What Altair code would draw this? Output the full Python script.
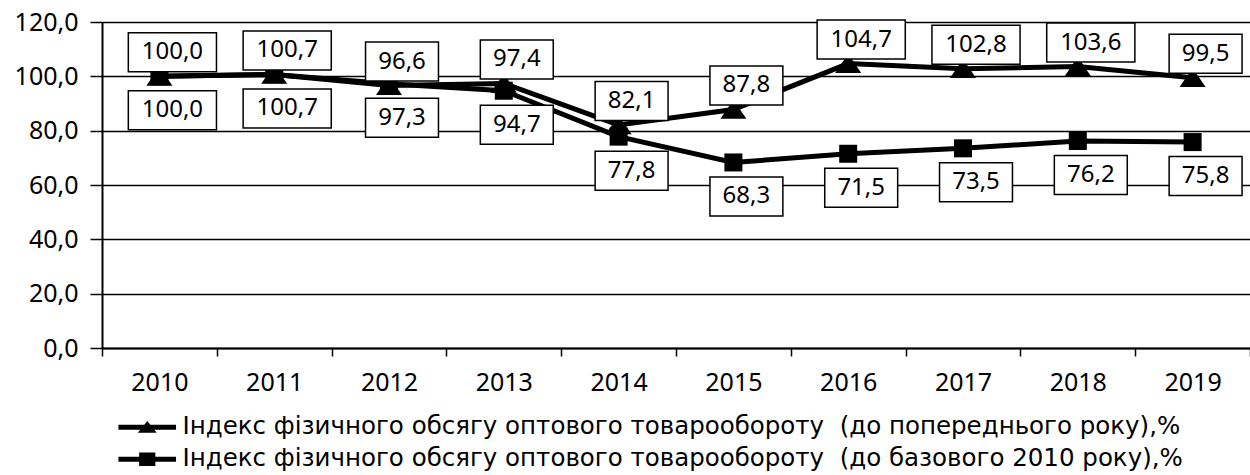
import altair as alt
import pandas as pd

FONT = "Noto Sans"
LEGEND_FONT = "DejaVu Sans"

years = ["2010", "2011", "2012", "2013", "2014", "2015", "2016", "2017", "2018", "2019"]
prev_year = [100.0, 100.7, 96.6, 97.4, 82.1, 87.8, 104.7, 102.8, 103.6, 99.5]
base_2010 = [100.0, 100.7, 97.3, 94.7, 77.8, 68.3, 71.5, 73.5, 76.2, 75.8]
series_names = [
    "Індекс фізичного обсягу оптового товарообороту\u00a0 (до попереднього року),%",
    "Індекс фізичного обсягу оптового товарообороту\u00a0 (до базового 2010 року),%",
]
y_ticks = [0, 20, 40, 60, 80, 100, 120]

rows = []
for name, vals in zip(series_names, [prev_year, base_2010]):
    for yr, v in zip(years, vals):
        rows.append({"year": yr, "value": v, "series": name,
                     "label": f"{v:.1f}".replace(".", ",")})
df = pd.DataFrame(rows)

tri_path = "M0,-0.75 L1,0.72 L-1,0.72 Z"
leg_tri = "M-3.2,-0.28 L3.2,-0.28 L3.2,0.28 L-3.2,0.28 Z M0,-0.7 L1.05,0.6 L-1.05,0.6 Z"
leg_sq = "M-3.2,-0.28 L3.2,-0.28 L3.2,0.28 L-3.2,0.28 Z M-0.9,-0.75 L0.9,-0.75 L0.9,0.75 L-0.9,0.75 Z"
box4 = "M-1.87,-1 L1.87,-1 L1.87,1 L-1.87,1 Z"
box5 = "M-2.26,-1 L2.26,-1 L2.26,1 L-2.26,1 Z"

x_enc = alt.X(
    "year:N", bandPosition=0.5,
    scale=alt.Scale(type="band", paddingInner=0, paddingOuter=0, domain=years),
    axis=alt.Axis(title=None, labelAngle=0, tickBand="extent", tickSize=8, tickWidth=1.5,
                  tickColor="black", domainColor="black", domainWidth=2, grid=False,
                  labelFont=FONT, labelFontSize=25, labelColor="black", labelPadding=14),
)
y_enc = alt.Y(
    "value:Q", scale=alt.Scale(domain=[0, 120], nice=False),
    axis=alt.Axis(title=None, values=y_ticks,
                  labelExpr="replace(format(datum.value, '.1f'), '.', ',')",
                  grid=True, gridColor="black", gridWidth=1.3, gridOpacity=1,
                  domainColor="black", domainWidth=2, tickColor="black", tickSize=12,
                  tickWidth=1.5, labelFont=FONT, labelFontSize=25, labelColor="black",
                  labelPadding=12),
)

base = alt.Chart(df).encode(x=x_enc, y=y_enc)

lines = base.mark_line(color="black", strokeWidth=5).encode(detail="series:N")

markers = base.mark_point(filled=True, color="black", opacity=1).encode(
    shape=alt.Shape("series:N", scale=alt.Scale(domain=series_names, range=[tri_path, "square"]), legend=None),
    size=alt.Size("series:N", scale=alt.Scale(domain=series_names, range=[676, 324]), legend=None),
)

legend_layer = base.mark_point(filled=True, color="black", opacity=1, size=324).transform_filter(
    "false"
).transform_calculate(series2="datum.series").encode(
    shape=alt.Shape("series2:N", scale=alt.Scale(domain=series_names, range=[leg_tri, leg_sq]),
                    legend=alt.Legend(title=None, orient="none", legendX=33, legendY=393,
                                      direction="vertical", labelFont=LEGEND_FONT, labelFontSize=24.5,
                                      labelColor="black", labelLimit=1300, labelOffset=23,
                                      rowPadding=7, symbolOpacity=1, symbolFillColor="black",
                                      symbolStrokeColor="black", symbolStrokeWidth=0,
                                      symbolSize=324, padding=0)),
)

offsets = {series_names[0]: (13, -24), series_names[1]: (13, 34)}
label_layers = []
for name in series_names:
    dx, dy = offsets[name]
    sub = base.transform_filter(alt.datum.series == name)
    boxes = sub.mark_point(filled=True, fill="white", stroke="black", strokeWidth=1.5,
                           opacity=1, size=1521, xOffset=dx, yOffset=dy).transform_calculate(
        nch="toString(length(datum.label))"
    ).encode(shape=alt.Shape("nch:N", scale=alt.Scale(domain=["4", "5"], range=[box4, box5]), legend=None))
    texts = sub.mark_text(dx=dx, dy=dy, font=FONT, fontSize=24, color="black",
                          baseline="middle", align="center").encode(text="label:N")
    label_layers += [boxes, texts]

chart = alt.layer(lines, markers, legend_layer, *label_layers).resolve_scale(
    shape="independent", size="independent"
).properties(
    width=1148, height=326,
    autosize=alt.AutoSizeParams(type="none"),
    padding={"left": 102, "top": 22, "right": 0, "bottom": 127},
    background="white",
).configure_view(stroke=None)

chart.save("out.html", embed_options={"renderer": "svg", "actions": False})
